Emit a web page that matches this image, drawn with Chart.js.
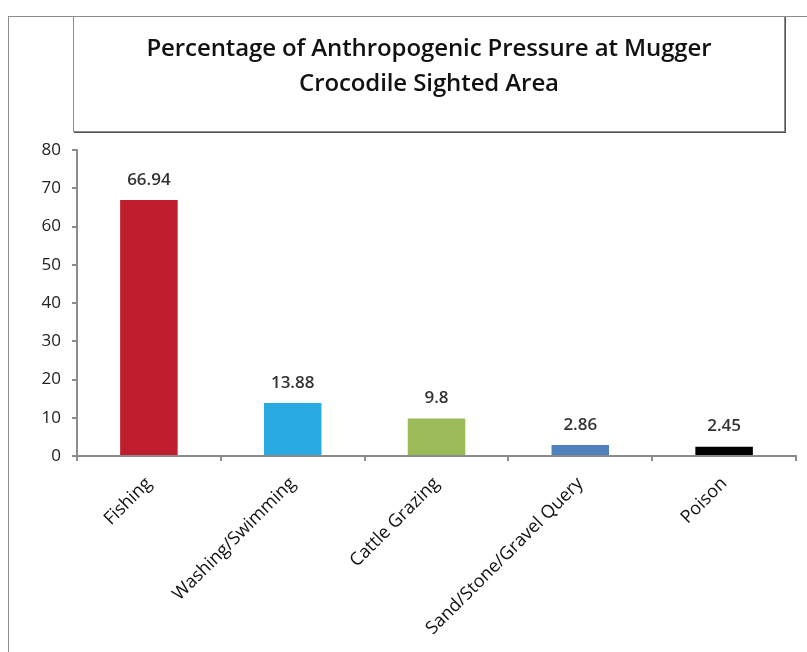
<!DOCTYPE html>
<html>
<head>
<meta charset="utf-8">
<script src="https://cdn.jsdelivr.net/npm/chart.js@4.4.1/dist/chart.umd.min.js"></script>
<style>
  html, body { margin: 0; padding: 0; background: #fff; }
  body { width: 807px; height: 652px; position: relative; overflow: hidden; font-family: 'Open Sans', sans-serif; }
  #frame { position: absolute; left: 8px; top: 16px; width: 820px; height: 660px; border-left: 1px solid #8c8c8c; border-top: 1px solid #8c8c8c; }
  #chartWrap { position: absolute; left: 0; top: 0; width: 807px; height: 652px; }
  #titleBox {
    position: absolute; left: 73px; top: 16px; width: 710px; height: 114px;
    border: 1px solid #8c8c8c; box-shadow: 1px 1px 0 #555;
    background: #fff; text-align: center; box-sizing: content-box;
    font-family: 'Open Sans', sans-serif; font-weight: 600; font-size: 24px; line-height: 35px; color: #111;
    letter-spacing: -0.1px;
  }
  #titleBox div:first-child { margin-top: 12px; }
</style>
</head>
<body>
<div id="frame"></div>
<div id="chartWrap"><canvas id="pressureChart" width="807" height="652"></canvas></div>
<div id="titleBox">
  <div>Percentage of Anthropogenic Pressure at Mugger</div>
  <div>Crocodile Sighted Area</div>
</div>
<script>
const categories = ['Fishing', 'Washing/Swimming', 'Cattle Grazing', 'Sand/Stone/Gravel Query', 'Poison'];
const percentValues = [66.94, 13.88, 9.8, 2.86, 2.45];
const barColors = ['#BE1E2D', '#29ABE2', '#9BBB59', '#4F81BD', '#000000'];
const yTicks = [0, 10, 20, 30, 40, 50, 60, 70, 80];

const padLeft = 20;
const padBottom = 0;

// value labels above each bar
const valueLabels = {
    id: 'valueLabels',
    afterDatasetsDraw(chart) {
        const ctx = chart.ctx;
        const meta = chart.getDatasetMeta(0);
        ctx.save();
        ctx.font = '600 17px "Open Sans"';
        ctx.fillStyle = '#333';
        ctx.textAlign = 'center';
        ctx.textBaseline = 'middle';
        meta.data.forEach((bar, i) => {
            ctx.fillText(String(percentValues[i]), bar.x, bar.y - 20);
        });
        ctx.restore();
    }
};

const ctx = document.getElementById('pressureChart').getContext('2d');
new Chart(ctx, {
    type: 'bar',
    data: {
        labels: categories,
        datasets: [{
            data: percentValues,
            backgroundColor: barColors,
            borderWidth: 0,
            barPercentage: 0.4,
            categoryPercentage: 1
        }]
    },
    options: {
        responsive: false,
        animation: false,
        layout: {
            padding: { top: 150, right: 11, bottom: padBottom, left: padLeft }
        },
        plugins: {
            legend: { display: false },
            tooltip: { enabled: false },
            title: { display: false }
        },
        scales: {
            x: {
                afterFit: scale => { scale.height = 652 - 456 - padBottom; },
                grid: {
                    offset: true,
                    drawOnChartArea: false,
                    drawTicks: true,
                    tickLength: 5,
                    color: '#8c8c8c',
                    lineWidth: 2
                },
                border: { color: '#8c8c8c', width: 2 },
                ticks: {
                    minRotation: 45,
                    maxRotation: 45,
                    autoSkip: false,
                    padding: 12,
                    color: '#111',
                    font: { family: 'Open Sans', size: 18 }
                }
            },
            y: {
                min: 0,
                max: 80,
                afterFit: scale => { scale.width = 77 - padLeft; },
                afterBuildTicks: scale => { scale.ticks = yTicks.map(v => ({ value: v })); },
                grid: {
                    drawOnChartArea: false,
                    drawTicks: true,
                    tickLength: 5,
                    color: '#8c8c8c',
                    lineWidth: 2
                },
                border: { color: '#8c8c8c', width: 2 },
                ticks: {
                    padding: 11,
                    color: '#222',
                    font: { family: 'Open Sans', size: 17 }
                }
            }
        }
    },
    plugins: [valueLabels]
});
</script>
</body>
</html>
